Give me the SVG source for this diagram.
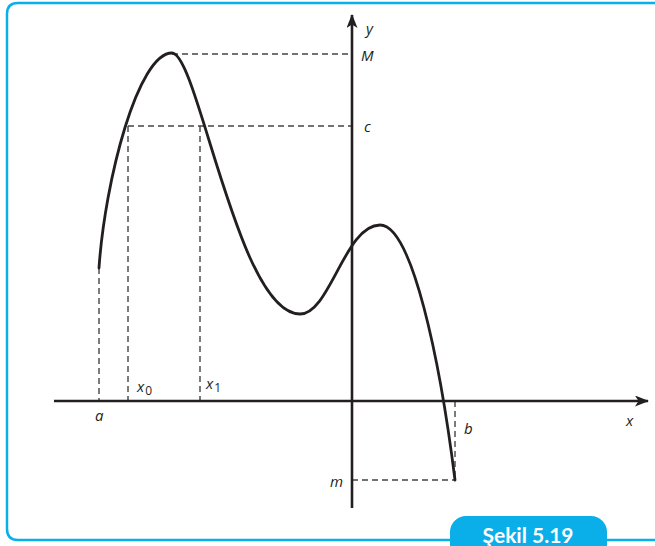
<svg xmlns="http://www.w3.org/2000/svg" width="655" height="546" viewBox="0 0 655 546">
<defs>
<style>
.axis{stroke:#231f20;stroke-width:2.6;fill:none}
.curve{stroke:#231f20;stroke-width:2.8;fill:none;stroke-linecap:round}
.dash{stroke:#444;stroke-width:1.4;stroke-dasharray:6 4;fill:none}
.lbl{font-family:"Open Sans","Liberation Sans",sans-serif;font-style:italic;font-size:15px;fill:#231f20}
.sub{font-size:12px;font-style:normal}
.frame{stroke:#0aaee9;stroke-width:2.5;fill:none}
</style>
<marker id="arr" viewBox="0 0 14 11" refX="13" refY="5.5" markerWidth="14" markerHeight="11" markerUnits="userSpaceOnUse" orient="auto">
<path d="M0,0 L14,5.5 L0,11 L3.5,5.5 Z" fill="#231f20"/>
</marker>
</defs>
<rect width="655" height="546" fill="#fff"/>
<path class="frame" d="M660,3 H18 Q7,3 7,14 V529 Q7,540 18,540 H660"/>
<g id="caption">
<rect x="450" y="516" width="157" height="44" rx="16" fill="#0aaee9"/>
<text x="528" y="543" text-anchor="middle" font-family="Lato,'Open Sans',sans-serif" font-weight="bold" font-size="21" fill="#fff">Şekil 5.19</text>
</g>
<g id="connectors">
<line class="dash" x1="99" y1="268" x2="99" y2="401"/>
<line class="dash" x1="128" y1="126" x2="128" y2="401"/>
<line class="dash" x1="200" y1="126" x2="200" y2="401"/>
<line class="dash" x1="128" y1="126" x2="352" y2="126"/>
<line class="dash" x1="172" y1="54" x2="352" y2="54"/>
<line class="dash" x1="455" y1="401" x2="455" y2="480"/>
<line class="dash" x1="352" y1="480" x2="455" y2="480"/>
</g>
<g id="x-axis">
<line class="axis" x1="54" y1="401" x2="648" y2="401" marker-end="url(#arr)"/>
<text class="lbl" x="626" y="426">x</text>
</g>
<g id="y-axis">
<line class="axis" x1="352" y1="508" x2="352" y2="15" marker-end="url(#arr)"/>
<text class="lbl" x="366" y="34">y</text>
</g>
<g id="curve">
<path class="curve" d="M99,268 C105,180 138,53 172,53 C198,53 238,314 300,314 C330,314 345,225 380,225 C412,225 440,360 455,480"/>
</g>
<g id="labels">
<text class="lbl" x="361" y="61">M</text>
<text class="lbl" x="364" y="132">c</text>
<text class="lbl" x="137" y="392">x<tspan class="sub" dx="1" dy="3">0</tspan></text>
<text class="lbl" x="206" y="389">x<tspan class="sub" dx="1" dy="3">1</tspan></text>
<text class="lbl" x="95" y="421">a</text>
<text class="lbl" x="464" y="434">b</text>
<text class="lbl" x="330" y="487">m</text>
</g>
</svg>
